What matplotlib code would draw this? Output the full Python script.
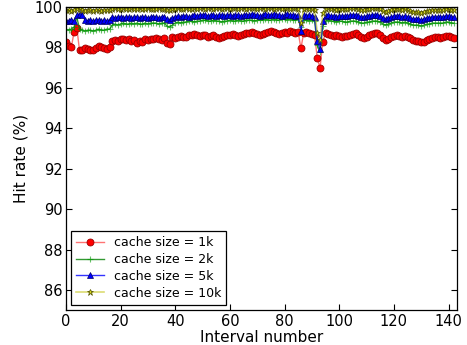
import matplotlib
matplotlib.use("Agg")
import matplotlib.pyplot as plt

# -------------------------------
# Hit rate per interval
# -------------------------------
hit_1k = [
    98.25, 98.05, 98.0, 98.75, 98.98, 97.85, 97.85, 97.95, 97.9, 97.85,
    97.85, 97.95, 98.05, 98.0, 97.95, 97.9, 98.0, 98.3, 98.35, 98.3,
    98.4, 98.4, 98.35, 98.4, 98.3, 98.35, 98.2, 98.3, 98.25, 98.4,
    98.35, 98.4, 98.4, 98.45, 98.4, 98.35, 98.45, 98.2, 98.15, 98.5, 98.45,
    98.5, 98.55, 98.5, 98.5, 98.6, 98.6, 98.65, 98.6, 98.55, 98.6,
    98.6, 98.5, 98.55, 98.6, 98.5, 98.45, 98.5, 98.55, 98.6, 98.6,
    98.65, 98.6, 98.55, 98.6, 98.65, 98.7, 98.7, 98.75, 98.7, 98.65, 98.6,
    98.65, 98.7, 98.75, 98.8, 98.75, 98.7, 98.65, 98.7, 98.75, 98.7,
    98.8, 98.75, 98.7, 98.75, 97.95, 98.7, 98.75, 98.7, 98.65, 98.6,
    97.45, 96.98, 98.28, 98.7, 98.65, 98.6, 98.55, 98.6, 98.55, 98.5,
    98.55, 98.55, 98.6, 98.65, 98.7, 98.6, 98.5, 98.45, 98.5, 98.6,
    98.65, 98.7, 98.7, 98.6, 98.45, 98.35, 98.4, 98.5, 98.55, 98.6,
    98.55, 98.5, 98.55, 98.5, 98.45, 98.35, 98.3, 98.3, 98.25, 98.25,
    98.35, 98.4, 98.45, 98.5, 98.5, 98.45, 98.5, 98.55, 98.55, 98.5,
    98.45,
]

hit_2k = [
    98.9, 98.85, 98.9, 99.0, 99.5, 98.9, 98.85, 98.8, 98.85, 98.85,
    98.8, 98.85, 98.9, 98.85, 98.85, 98.9, 98.9, 99.1, 99.15, 99.1,
    99.15, 99.2, 99.15, 99.15, 99.2, 99.15, 99.2, 99.15, 99.15, 99.2,
    99.15, 99.2, 99.2, 99.2, 99.15, 99.2, 99.2, 99.05, 99.0, 99.1, 99.2,
    99.25, 99.2, 99.25, 99.25, 99.3, 99.3, 99.25, 99.3, 99.3, 99.35,
    99.35, 99.3, 99.3, 99.35, 99.3, 99.3, 99.25, 99.3, 99.3, 99.35,
    99.3, 99.3, 99.35, 99.3, 99.3, 99.35, 99.35, 99.35, 99.3, 99.35, 99.35,
    99.35, 99.4, 99.35, 99.35, 99.4, 99.35, 99.35, 99.4, 99.4, 99.35,
    99.4, 99.35, 99.35, 99.4, 99.0, 99.35, 99.35, 99.3, 99.35, 99.3,
    98.1, 97.75, 99.05, 99.3, 99.35, 99.3, 99.3, 99.25, 99.3, 99.3,
    99.25, 99.25, 99.3, 99.3, 99.3, 99.25, 99.2, 99.2, 99.25, 99.25,
    99.3, 99.3, 99.3, 99.25, 99.15, 99.1, 99.15, 99.2, 99.25, 99.25,
    99.25, 99.2, 99.25, 99.2, 99.15, 99.1, 99.1, 99.1, 99.05, 99.1,
    99.15, 99.15, 99.2, 99.2, 99.2, 99.2, 99.2, 99.25, 99.25, 99.2,
    99.2,
]

hit_5k = [
    99.3, 99.3, 99.35, 99.3, 99.6, 99.65, 99.6, 99.35, 99.3, 99.35,
    99.3, 99.35, 99.35, 99.3, 99.35, 99.3, 99.35, 99.5, 99.45, 99.5,
    99.5, 99.45, 99.5, 99.5, 99.45, 99.5, 99.5, 99.45, 99.5, 99.5,
    99.45, 99.5, 99.5, 99.5, 99.45, 99.5, 99.5, 99.4, 99.35, 99.45, 99.5,
    99.55, 99.5, 99.55, 99.55, 99.5, 99.55, 99.6, 99.55, 99.6, 99.6,
    99.6, 99.55, 99.6, 99.6, 99.55, 99.6, 99.6, 99.55, 99.6, 99.6,
    99.55, 99.6, 99.6, 99.55, 99.6, 99.6, 99.6, 99.65, 99.6, 99.6, 99.55,
    99.6, 99.65, 99.6, 99.6, 99.65, 99.6, 99.6, 99.55, 99.6, 99.65,
    99.6, 99.6, 99.55, 99.6, 98.8, 99.6, 99.55, 99.6, 99.55, 99.5,
    98.3, 97.9, 99.3, 99.55, 99.6, 99.55, 99.55, 99.5, 99.55, 99.55,
    99.55, 99.55, 99.6, 99.6, 99.6, 99.55, 99.5, 99.5, 99.55, 99.55,
    99.6, 99.6, 99.6, 99.55, 99.45, 99.4, 99.45, 99.5, 99.55, 99.55,
    99.55, 99.5, 99.55, 99.5, 99.45, 99.4, 99.4, 99.4, 99.35, 99.4,
    99.45, 99.45, 99.5, 99.5, 99.5, 99.5, 99.5, 99.55, 99.55, 99.5,
    99.5,
]

hit_10k = [
    99.85, 99.85, 99.8, 99.85, 99.9, 99.9, 99.85, 99.8, 99.85, 99.85,
    99.8, 99.85, 99.85, 99.8, 99.85, 99.85, 99.85, 99.9, 99.95, 99.9,
    99.9, 99.95, 99.9, 99.9, 99.95, 99.9, 99.9, 99.95, 99.9, 99.9,
    99.95, 99.9, 99.9, 99.9, 99.95, 99.9, 99.9, 99.85, 99.85, 99.9, 99.9,
    99.95, 99.9, 99.9, 99.95, 99.9, 99.9, 99.95, 99.9, 99.95, 99.95,
    99.9, 99.95, 99.95, 99.9, 99.95, 99.95, 99.9, 99.95, 99.95, 99.9,
    99.95, 99.95, 99.9, 99.95, 99.95, 99.9, 99.95, 99.95, 99.95, 99.9, 99.95,
    99.95, 99.9, 99.95, 99.95, 99.9, 99.95, 99.95, 99.9, 99.95, 99.95,
    99.9, 99.95, 99.95, 99.9, 99.2, 99.9, 99.95, 99.9, 99.9, 99.85,
    98.7, 98.35, 99.7, 99.9, 99.95, 99.9, 99.9, 99.85, 99.9, 99.9,
    99.9, 99.9, 99.95, 99.95, 99.95, 99.9, 99.85, 99.85, 99.9, 99.9,
    99.95, 99.95, 99.95, 99.9, 99.8, 99.75, 99.8, 99.85, 99.9, 99.9,
    99.9, 99.85, 99.9, 99.85, 99.8, 99.75, 99.75, 99.75, 99.7, 99.75,
    99.8, 99.8, 99.85, 99.85, 99.85, 99.85, 99.85, 99.9, 99.9, 99.85,
    99.85,
]

labels = ["cache size = 1k", "cache size = 2k", "cache size = 5k", "cache size = 10k"]
intervals = list(range(len(hit_1k)))

# -------------------------------
# Plot
# -------------------------------
fig = plt.figure(figsize=(4.67, 3.45), dpi=100)
ax = fig.add_axes([0.141, 0.101, 0.837, 0.879])

ax.plot(intervals, hit_1k, color=(1, 0, 0, 0.55), lw=1, marker="o", ms=5,
        mfc="red", mec=(0.6, 0, 0), mew=0.6, label=labels[0])
ax.plot(intervals, hit_2k, color=(0, 0.5, 0, 0.8), lw=1, marker="+", ms=5,
        mec=(0, 0.6, 0, 0.6), mew=0.8, label=labels[1])
ax.plot(intervals, hit_5k, color=(0, 0, 1, 0.8), lw=1, marker="^", ms=4.5,
        mfc="blue", mec=(0, 0, 0.4), mew=0.5, label=labels[2])
ax.plot(intervals, hit_10k, color=(0.75, 0.75, 0, 0.55), lw=1.2, marker="*", ms=4.5,
        mfc=(0.85, 0.85, 0.1), mec=(0.3, 0.3, 0), mew=0.5, label=labels[3])

ax.set_xlim(0, 143)
ax.set_ylim(85, 100)
ax.set_xticks(range(0, 141, 20))
ax.set_yticks(range(86, 101, 2))
ax.tick_params(direction="in", top=True, right=True, length=4, width=0.8,
               labelsize=10.5, pad=2.5)
for s in ax.spines.values():
    s.set_linewidth(0.9)

ax.set_xlabel("Interval number", fontsize=11, labelpad=1)
ax.set_ylabel("Hit rate (%)", fontsize=11, labelpad=4)

leg = ax.legend(loc="lower left", fontsize=9, fancybox=False, framealpha=1,
                edgecolor="black", borderaxespad=0.45, handlelength=2.2,
                labelspacing=0.3, borderpad=0.4, numpoints=1)
leg.get_frame().set_linewidth(0.9)

fig.savefig("out.png", dpi=100)
